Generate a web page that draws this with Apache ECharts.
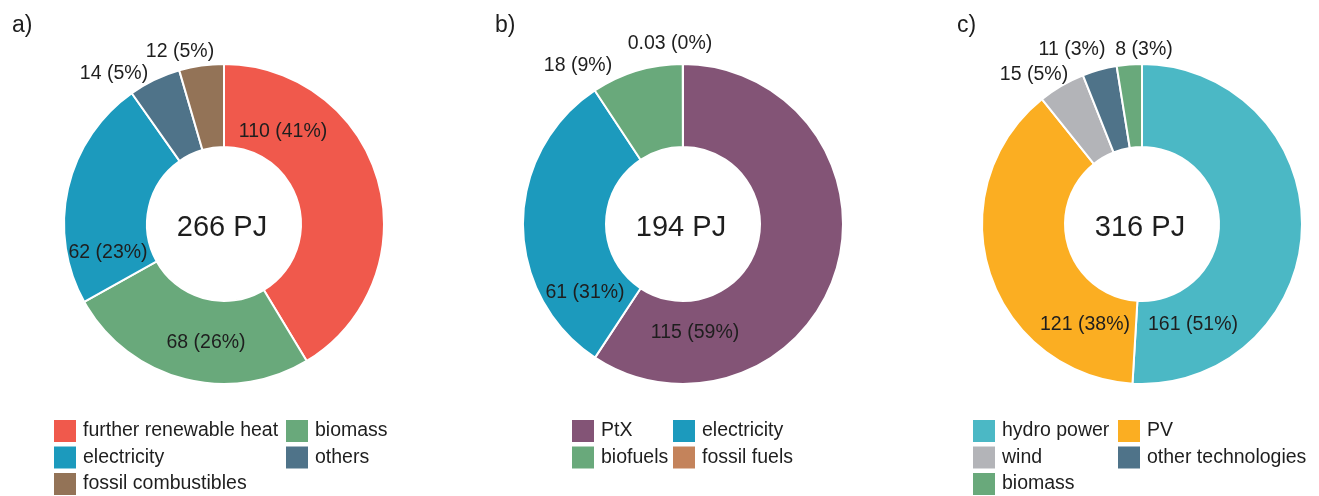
<!DOCTYPE html>
<html>
<head>
<meta charset="utf-8">
<script src="https://cdn.jsdelivr.net/npm/echarts@6/dist/echarts.min.js"></script>
<style>
  html, body { margin: 0; padding: 0; background: #fff; }
  #chart { width: 1319px; height: 496px; }
</style>
</head>
<body>
<div id="chart"></div>
<script>
// ---- data ----
const namesA = ['further renewable heat', 'biomass', 'electricity', 'others', 'fossil combustibles'];
const valuesA = [110, 68, 62, 14, 12];
const namesB = ['PtX', 'electricity', 'biofuels', 'fossil fuels'];
const valuesB = [115, 61, 18, 0.03];
const namesC = ['hydro power', 'PV', 'wind', 'other technologies', 'biomass'];
const valuesC = [161, 121, 15, 11, 8];
const panelTitles = ['a)', 'b)', 'c)'];
const unit = 'PJ';

// ---- styles ----
const colorMap = {
  'further renewable heat': '#F0594C',
  'biomass': '#69A97B',
  'electricity': '#1C9ABD',
  'others': '#4F7389',
  'fossil combustibles': '#937357',
  'PtX': '#835476',
  'biofuels': '#69A97B',
  'fossil fuels': '#C4835B',
  'hydro power': '#4BB8C5',
  'PV': '#FBAE22',
  'wind': '#B3B4B8',
  'other technologies': '#4F7389'
};
const FONT = '"Liberation Sans", Arial, Helvetica, sans-serif';
const TXT = '#1e1e1e';
const centersX = [224, 683, 1142];
const centerY = 224;
// label offsets (px) relative to each pie centre
const labelOffsets = [
  [[59, -92], [-18, 119], [-116, 29], [-110, -150], [-44, -172]],
  [[12, 109], [-98, 69], [-105, -158], [-13, -180]],
  [[51, 101], [-57, 101], [-108, -149], [-70, -174], [2, -174]]
];
// legend column x positions per panel
const legendCols = [[54, 286], [572, 673], [973, 1118]];
const legendTop = 420;

function fmt(v) {
  return (v < 1 ? String(v) : String(Math.round(v)));
}

const panels = [[namesA, valuesA], [namesB, valuesB], [namesC, valuesC]];

const series = panels.map(([names, values], i) => ({
  type: 'pie',
  name: panelTitles[i],
  center: [centersX[i], centerY],
  radius: [77, 160],
  startAngle: 90,
  clockwise: true,
  animation: false,
  itemStyle: { borderColor: '#fff', borderWidth: 2 },
  label: { show: false },
  labelLine: { show: false },
  emphasis: { disabled: true },
  data: names.map((n, k) => ({ name: n, value: values[k], itemStyle: { color: colorMap[n] } }))
}));

const legends = [];
panels.forEach(([names], i) => {
  [0, 1].forEach(col => {
    legends.push({
      data: names.filter((n, k) => k % 2 === col),
      orient: 'vertical',
      left: legendCols[i][col],
      top: legendTop,
      itemWidth: 22,
      itemHeight: 22,
      itemGap: 4.5,
      padding: 0,
      selectedMode: false,
      icon: 'rect',
      itemStyle: { borderWidth: 0 },
      textStyle: { fontFamily: FONT, fontSize: 19.5, color: TXT, padding: [3, 0, 0, 2] }
    });
  });
});

const graphics = [];
panels.forEach(([names, values], i) => {
  const total = values.reduce((a, b) => a + b, 0);
  graphics.push({
    type: 'text',
    z: 100,
    x: centersX[i] - 2,
    y: centerY + 4,
    style: {
      text: Math.round(total) + ' ' + unit,
      fontFamily: FONT, fontSize: 29, fill: TXT,
      textAlign: 'center', textVerticalAlign: 'middle'
    }
  });
  values.forEach((v, k) => {
    const off = labelOffsets[i][k];
    graphics.push({
      type: 'text',
      z: 100,
      x: centersX[i] + off[0],
      y: centerY + off[1],
      style: {
        text: fmt(v) + ' (' + Math.round(v / total * 100) + '%)',
        fontFamily: FONT, fontSize: 19.5, fill: TXT,
        textAlign: 'center', textVerticalAlign: 'middle'
      }
    });
  });
});

const option = {
  animation: false,
  title: panelTitles.map((t, i) => ({
    text: t,
    left: [7, 490, 952][i],
    top: 9,
    textStyle: { fontFamily: FONT, fontSize: 23, fontWeight: 'normal', color: TXT }
  })),
  legend: legends,
  graphic: graphics,
  series: series
};

const chart = echarts.init(document.getElementById('chart'), null, { renderer: 'canvas' });
chart.setOption(option);
</script>
</body>
</html>
